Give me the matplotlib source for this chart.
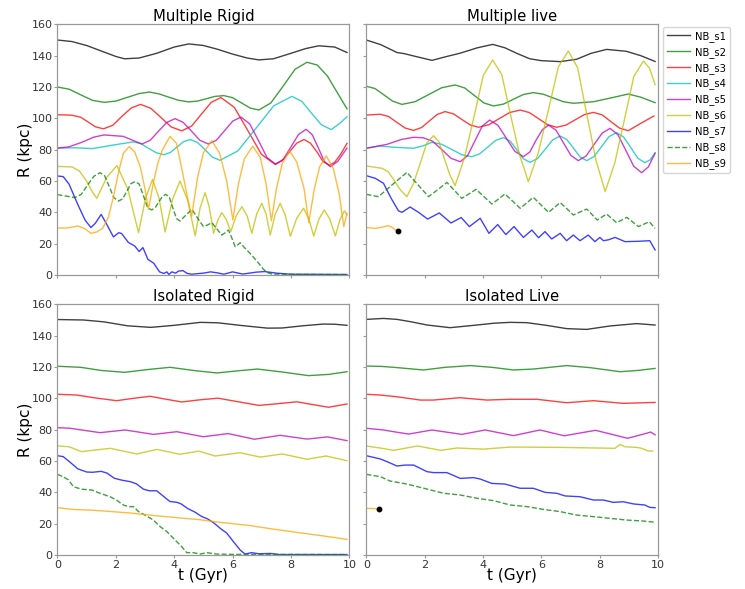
import matplotlib
matplotlib.use("Agg")
import matplotlib.pyplot as plt
from matplotlib.lines import Line2D

# ---------------- data (t in Gyr, R in kpc) ----------------
LABELS = ["NB_s1", "NB_s2", "NB_s3", "NB_s4", "NB_s5", "NB_s6", "NB_s7", "NB_s8", "NB_s9"]
TITLES = ["Multiple Rigid", "Multiple live", "Isolated Rigid", "Isolated Live"]
X_TICKS = [0, 2, 4, 6, 8, 10]
Y_TICKS = [0, 20, 40, 60, 80, 100, 120, 140, 160]

# ---- Multiple Rigid ----
MR_S1_T = [0, 0.5, 1, 1.5, 2, 2.3, 2.8, 3.4, 4, 4.5, 5, 5.5, 6, 6.5, 6.9, 7.4, 8, 8.5, 8.95, 9.5, 9.92]
MR_S1_R = [150, 149, 146.5, 143, 139.5, 138, 138.5, 141.5, 145.5, 147.5, 146.5, 144, 141, 138.5, 137.3, 138, 141.5, 144.5, 146.3, 145.5, 142]
MR_S2_T = [0, 0.4, 0.8, 1.2, 1.6, 2.0, 2.4, 2.8, 3.15, 3.5, 3.8, 4.15, 4.5, 4.8, 5.1, 5.4, 5.7, 6.0, 6.3, 6.6, 6.9, 7.31, 7.73, 8.14, 8.55, 8.9, 9.25, 9.6, 9.92]
MR_S2_R = [120, 118.6, 115, 111.5, 110.2, 111, 113.4, 115.8, 116.8, 115.5, 113.6, 111.5, 110.5, 111, 112.5, 114, 114.5, 113.2, 109.9, 106.6, 105.3, 109.8, 120.5, 131.3, 135.8, 134, 127, 116, 106]
MR_S3_T = [0, 0.5, 0.8, 1.05, 1.3, 1.58, 1.9, 2.2, 2.53, 2.85, 3.2, 3.55, 3.9, 4.26, 4.6, 4.93, 5.27, 5.6, 6.06, 6.53, 6.99, 7.45, 7.7, 7.95, 8.2, 8.45, 8.67, 8.9, 9.1, 9.32, 9.5, 9.7, 9.92]
MR_S3_R = [102.3, 102, 100.7, 97.7, 94.6, 93.3, 95.6, 101.1, 106.6, 108.9, 106.4, 100.5, 94.5, 92, 95.1, 102.6, 110.2, 113.3, 107, 92, 77, 70.7, 73, 78.6, 84.2, 86.5, 84.1, 78.3, 72.4, 70, 72, 77, 84]
MR_S4_T = [0, 0.6, 1.2, 1.9, 2.6, 2.86, 3.12, 3.39, 3.65, 3.87, 4.1, 4.32, 4.55, 4.8, 5.06, 5.31, 5.57, 6.18, 6.8, 7.41, 8.03, 8.37, 8.7, 9.04, 9.38, 9.65, 9.92]
MR_S4_R = [81, 81.2, 80.7, 82.9, 85, 83.8, 80.9, 78, 76.8, 78.2, 81.7, 85.1, 86.5, 84.6, 79.9, 75.2, 73.2, 79.2, 93.6, 108, 114, 110.9, 103.4, 95.9, 92.8, 96.5, 101]
MR_S5_T = [0, 0.4, 0.85, 1.25, 1.6, 2.25, 2.9, 3.18, 3.46, 3.74, 4.03, 4.31, 4.6, 4.88, 5.17, 5.45, 5.73, 6.01, 6.29, 6.59, 6.89, 7.18, 7.48, 7.74, 8.0, 8.26, 8.52, 8.73, 8.94, 9.14, 9.35, 9.6, 9.92]
MR_S5_R = [81, 81.8, 84.8, 88, 89.4, 88.5, 83.6, 86, 91.7, 97.3, 99.8, 97.4, 91.7, 86, 83.6, 86.1, 92.2, 98.3, 100.8, 96.4, 85.7, 75, 70.6, 73.9, 81.8, 89.7, 93, 89.5, 81, 72.6, 69.1, 72.5, 81]
MR_S6_T = [0, 0.5, 0.75, 1.0, 1.2, 1.35, 1.7, 2.04, 2.41, 2.78, 3.02, 3.26, 3.48, 3.69, 3.95, 4.2, 4.46, 4.72, 4.89, 5.06, 5.2, 5.35, 5.5, 5.63, 5.78, 5.94, 6.13, 6.32, 6.5, 6.66, 6.83, 7.0, 7.15, 7.29, 7.46, 7.63, 7.8, 7.98, 8.2, 8.43, 8.6, 8.78, 8.96, 9.14, 9.33, 9.52, 9.68, 9.83, 9.92]
MR_S6_R = [69.3, 69, 66.5, 60, 53, 49, 62.5, 69.8, 55, 27, 49, 61, 49.3, 27.5, 48.6, 60, 47.8, 25, 43, 52.6, 43.5, 26.6, 35.2, 39.8, 35.6, 27.7, 38, 43.6, 37.7, 26.6, 39.1, 45.8, 38.7, 25.5, 38.7, 45.8, 38.4, 24.7, 36.3, 42.6, 36.4, 24.9, 35.7, 41.5, 35.7, 24.9, 35.4, 41, 38.3]
MR_S7_T = [0, 0.2, 0.4, 0.7, 0.95, 1.15, 1.3, 1.5, 1.7, 1.92, 2.1, 2.2, 2.43, 2.65, 2.8, 2.93, 3.1, 3.3, 3.5, 3.65, 3.75, 3.82, 3.92, 4.05, 4.15, 4.3, 4.45, 4.6, 5.0, 5.25, 5.5, 5.7, 6.0, 6.35, 6.8, 7.1, 7.5, 8.0, 9.0, 9.92]
MR_S7_R = [63.2, 62.8, 58, 45, 35, 30.3, 33, 38.7, 32, 24.3, 27, 26.5, 20.8, 18.5, 15, 17.5, 10, 7.5, 2, 1, 2, 0.3, 2, 1.2, 2.5, 2.8, 1, 0.5, 1.2, 2, 1.3, 0.5, 2, 0.6, 1.8, 2.2, 1.2, 0.5, 0.4, 0.3]
MR_S8_T = [0, 0.6, 0.82, 1.03, 1.25, 1.46, 1.62, 1.78, 1.93, 2.09, 2.23, 2.38, 2.52, 2.66, 2.8, 2.95, 3.09, 3.23, 3.35, 3.47, 3.59, 3.71, 3.83, 3.95, 4.08, 4.2, 4.4, 4.61, 4.8, 5.0, 5.15, 5.29, 5.46, 5.63, 5.75, 5.86, 5.98, 6.09, 6.18, 6.26, 6.43, 6.6, 6.85, 7.06, 7.2, 7.35, 8.0, 9.92]
MR_S8_R = [51.3, 49.4, 51.5, 57.3, 63, 65.3, 63.3, 56.3, 49.5, 47.2, 48.5, 53.4, 58.3, 59.6, 58.1, 50.5, 43, 41.5, 43, 46.5, 50, 51.5, 49.9, 43, 36, 34.5, 38.2, 41.9, 36.4, 30.9, 32, 33.4, 29.5, 25.5, 27, 28.7, 23.4, 18.1, 19.3, 20.6, 17, 13.8, 8.5, 3.6, 1.5, 0.6, 0.4, 0.3]
MR_S9_T = [0, 0.35, 0.7, 0.95, 1.15, 1.35, 1.55, 1.75, 1.92, 2.1, 2.26, 2.46, 2.65, 2.84, 3.0, 3.12, 3.3, 3.45, 3.6, 3.86, 4.08, 4.26, 4.45, 4.6, 4.8, 5.0, 5.29, 5.55, 5.8, 6.01, 6.2, 6.4, 6.69, 6.95, 7.15, 7.33, 7.5, 7.7, 7.95, 8.2, 8.45, 8.61, 8.8, 8.98, 9.21, 9.45, 9.65, 9.81, 9.92]
MR_S9_R = [30, 30, 31.3, 29.5, 26.6, 27.5, 29.8, 37, 50, 66, 77.7, 82, 78.5, 69, 55, 42, 60, 72, 80, 88.5, 84, 68, 50, 37.5, 62, 78, 85.7, 78, 60, 35.1, 58, 74, 82.3, 75, 58, 34.5, 55, 71, 79.4, 72, 55, 33.4, 55, 69, 76, 68, 52, 30.9, 39.4]

# ---- Multiple live ----
ML_S1_T = [0, 0.5, 1.05, 1.3, 1.8, 2.25, 2.76, 3.2, 3.8, 4.33, 4.75, 5.15, 5.6, 6.0, 6.64, 7.2, 7.7, 8.23, 8.9, 9.4, 9.89]
ML_S1_R = [150, 147, 142, 141.3, 139, 137, 139.5, 141.5, 145, 147.2, 145, 141.5, 138, 136.8, 136.2, 137.7, 141.5, 144, 142.8, 140, 136.3]
ML_S2_T = [0, 0.3, 0.6, 0.9, 1.22, 1.67, 2.13, 2.58, 3.04, 3.37, 3.7, 4.03, 4.36, 4.7, 5.04, 5.38, 5.72, 6.06, 6.4, 6.75, 7.09, 7.78, 8.37, 8.97, 9.4, 9.89]
ML_S2_R = [120.5, 119, 115, 111, 108.9, 110.6, 115.1, 119.5, 121.3, 119.4, 114.6, 109.8, 107.9, 109.1, 112.2, 115.2, 116.4, 115.4, 113, 110.6, 109.6, 110.6, 113, 115.5, 113.5, 110]
ML_S3_T = [0, 0.48, 0.77, 1.05, 1.33, 1.62, 1.89, 2.16, 2.43, 2.7, 2.99, 3.27, 3.56, 3.84, 4.2, 4.55, 4.91, 5.27, 5.58, 5.9, 6.21, 6.52, 6.84, 7.15, 7.47, 7.78, 8.08, 8.37, 8.67, 8.97, 9.4, 9.85]
ML_S3_R = [102.1, 102.6, 101.1, 97.4, 93.8, 92.3, 94.1, 98.3, 102.5, 104.3, 102.8, 99.3, 95.8, 94.3, 95.9, 99.8, 103.7, 105.3, 103.7, 99.8, 95.9, 94.3, 95.7, 99, 102.4, 103.8, 102.2, 98, 93.8, 92.1, 96.8, 101.5]
ML_S4_T = [0, 0.45, 1.0, 1.62, 1.95, 2.25, 2.59, 2.93, 3.27, 3.61, 3.88, 4.16, 4.43, 4.7, 4.93, 5.16, 5.38, 5.61, 5.87, 6.13, 6.38, 6.64, 6.87, 7.1, 7.32, 7.55, 7.8, 8.06, 8.31, 8.57, 8.81, 9.06, 9.3, 9.54, 9.72, 9.89]
ML_S4_R = [80.9, 82.3, 81.5, 80.9, 82.5, 84.7, 83.4, 80.1, 76.8, 75.5, 77.3, 81.6, 85.9, 87.7, 85.4, 79.8, 74.2, 71.9, 74.4, 80.3, 86.2, 88.7, 86.4, 80.9, 75.3, 73, 75.6, 82, 88.3, 90.9, 88.1, 81.3, 74.5, 71.7, 73.5, 78]
ML_S5_T = [0, 0.71, 1.2, 1.62, 1.95, 2.27, 2.59, 2.9, 3.22, 3.47, 3.72, 3.97, 4.22, 4.51, 4.8, 5.09, 5.38, 5.6, 5.81, 6.03, 6.24, 6.5, 6.75, 7.01, 7.26, 7.53, 7.8, 8.08, 8.35, 8.62, 8.89, 9.16, 9.43, 9.66, 9.89]
ML_S5_R = [80.9, 83.4, 86.5, 87.9, 87.6, 85.4, 80, 74.5, 72.3, 76.2, 85.6, 95, 98.9, 95.5, 87.2, 78.9, 75.5, 78.5, 85.9, 92.7, 95.7, 92.4, 84.4, 76.3, 73, 76, 83.3, 90.6, 93.6, 89.5, 79.5, 69.4, 65.3, 69, 77.7]
ML_S6_T = [0, 0.54, 0.75, 0.97, 1.18, 1.39, 1.62, 1.85, 2.07, 2.3, 2.49, 2.67, 2.86, 3.04, 3.36, 3.69, 4.01, 4.33, 4.64, 4.94, 5.25, 5.55, 5.89, 6.24, 6.58, 6.92, 7.24, 7.55, 7.87, 8.18, 8.51, 8.84, 9.16, 9.49, 9.7, 9.89]
ML_S6_R = [69.6, 68.1, 65.9, 60, 54, 50, 58.6, 71.4, 84.2, 88.9, 85.1, 74.5, 64, 57, 74.6, 101.1, 127.6, 137.2, 127.9, 102.3, 76.7, 59.6, 78, 105.5, 133, 143, 132.2, 102.6, 73, 53.2, 71.5, 99.1, 126.6, 136.6, 132, 121.5]
ML_S7_T = [0, 0.31, 0.59, 0.85, 1.1, 1.22, 1.5, 1.79, 2.1, 2.5, 2.9, 3.25, 3.53, 3.9, 4.2, 4.5, 4.78, 5.06, 5.38, 5.67, 5.9, 6.12, 6.35, 6.64, 6.86, 7.09, 7.32, 7.6, 7.83, 8.0, 8.12, 8.3, 8.52, 8.86, 9.3, 9.71, 9.89]
ML_S7_R = [63.4, 61.7, 58.5, 49, 41, 40, 43.4, 40, 35.7, 39.6, 33.2, 36.7, 30.9, 36.2, 26.6, 32.2, 25.8, 30.9, 24, 28.7, 23.8, 27.7, 23, 26.6, 21.9, 25.5, 21.9, 25.5, 21.3, 24, 21.9, 22.5, 24, 21.3, 21.5, 21.9, 16]
ML_S8_T = [0, 0.42, 0.9, 1.39, 1.76, 2.13, 2.45, 2.76, 3.02, 3.27, 3.52, 3.76, 4.03, 4.3, 4.53, 4.75, 5.01, 5.27, 5.5, 5.72, 5.98, 6.24, 6.44, 6.64, 6.87, 7.09, 7.32, 7.55, 7.73, 7.91, 8.07, 8.23, 8.4, 8.57, 8.75, 8.92, 9.12, 9.32, 9.5, 9.69, 9.89]
ML_S8_R = [51.5, 50, 57.8, 65.5, 57.8, 50, 54.5, 59.1, 54, 48.9, 51.8, 54.7, 50, 45.3, 48.5, 51.7, 47.2, 42.6, 46.1, 49.6, 44.8, 40, 43.1, 46.2, 42.3, 38.3, 40.2, 42.1, 38.6, 35.1, 37, 38.9, 36.2, 33.4, 35.1, 36.8, 33.9, 30.9, 32.4, 34, 29.8]
ML_S9_T = [0, 0.3, 0.5, 0.75, 0.88, 1.0, 1.1]
ML_S9_R = [30.3, 29.8, 30.4, 31.5, 30.5, 28.7, 28.3]

# ---- Isolated Rigid ----
IR_S1_T = [0, 0.9, 1.6, 2.4, 3.2, 4.0, 4.9, 5.5, 6.3, 7.2, 7.7, 8.4, 9.1, 9.5, 9.92]
IR_S1_R = [150.3, 150, 148.8, 146.3, 145.3, 146.6, 148.5, 148.2, 146.5, 144.8, 144.9, 146.3, 147.4, 147.3, 146.6]
IR_S2_T = [0, 0.8, 1.5, 2.3, 3.1, 3.86, 4.7, 5.46, 6.2, 6.85, 7.7, 8.6, 9.3, 9.92]
IR_S2_R = [120.5, 119.8, 117.8, 116.6, 118.4, 119.8, 117.7, 116.2, 117.6, 118.7, 116.8, 114.5, 115.3, 117]
IR_S3_T = [0, 0.66, 1.4, 2.03, 2.6, 3.18, 3.7, 4.26, 4.85, 5.5, 6.2, 6.9, 7.5, 8.2, 8.75, 9.29, 9.92]
IR_S3_R = [102.6, 102.1, 100, 98.5, 100, 101.3, 99.5, 97.7, 99, 100.1, 97.8, 95.5, 96.5, 97.8, 96, 94.3, 96.4]
IR_S5_T = [0, 0.43, 1.46, 2.32, 3.29, 4.09, 5.0, 5.85, 6.75, 7.63, 8.55, 9.25, 9.92]
IR_S5_R = [81.3, 80.9, 78.1, 79.8, 77, 78.7, 75.5, 77.5, 73.9, 76.4, 74, 75.4, 73]
IR_S6_T = [0, 0.4, 0.83, 1.81, 2.72, 3.41, 4.2, 4.85, 5.4, 6.25, 6.95, 7.7, 8.55, 9.2, 9.92]
IR_S6_R = [69.6, 69.1, 66, 68.1, 64.5, 67.4, 64.3, 66.3, 63.2, 65.3, 62.5, 64.5, 61.1, 63.2, 60.2]
IR_S7_T = [0, 0.2, 0.45, 0.7, 1.0, 1.2, 1.5, 1.7, 1.95, 2.2, 2.5, 2.7, 2.95, 3.15, 3.4, 3.6, 3.85, 4.1, 4.25, 4.45, 4.7, 4.95, 5.15, 5.35, 5.58, 5.8, 6.03, 6.26, 6.43, 6.65, 6.9, 7.3, 7.6, 9.92]
IR_S7_R = [63.4, 62.8, 59, 55, 53, 52.8, 53.4, 52.3, 49, 47.8, 46.8, 45.5, 42, 41, 41, 38, 34.2, 33.6, 32.5, 29.8, 27.5, 24.5, 23, 20.6, 17, 14, 8.5, 3.2, 0.6, 1.5, 0.8, 1.0, 0.3, 0.3]
IR_S8_T = [0, 0.2, 0.38, 0.55, 0.83, 1.18, 1.46, 1.81, 2.03, 2.26, 2.43, 2.61, 2.78, 3.0, 3.29, 3.52, 3.75, 3.92, 4.09, 4.26, 4.43, 4.66, 4.89, 5.12, 5.46, 6.0, 9.92]
IR_S8_R = [51.5, 50, 47.9, 43.6, 42, 41.5, 39.4, 37.2, 35, 31.9, 30.9, 30.9, 27.7, 25.5, 22.3, 18.1, 14.9, 11.7, 8.5, 5.3, 1.5, 1.5, 0.6, 1.5, 0.6, 0.4, 0.3]
IR_S9_T = [0, 0.6, 1.2, 1.8, 2.5, 3.3, 4.0, 4.9, 5.5, 6.0, 6.6, 7.4, 8.3, 9.1, 9.92]
IR_S9_R = [30.2, 29, 28.6, 27.8, 26.8, 25.2, 24, 22.5, 21, 20, 18.8, 16.5, 14.2, 12.2, 10]

# ---- Isolated Live ----
IL_S1_T = [0, 0.59, 1.05, 1.55, 2.08, 2.87, 3.79, 4.4, 4.93, 5.5, 6.2, 6.86, 7.55, 8.35, 9.26, 9.89]
IL_S1_R = [150.4, 151, 150.4, 148.8, 146.8, 145.1, 146.8, 148, 148.5, 148.3, 146.5, 144.5, 144, 146.2, 147.7, 146.8]
IL_S2_T = [0, 0.5, 0.94, 1.96, 2.7, 3.56, 4.3, 5.04, 5.72, 6.86, 7.66, 8.69, 9.3, 9.89]
IL_S2_R = [120.6, 120.4, 119.8, 118.1, 119.8, 120.9, 119.8, 118.1, 118.7, 120.9, 119.6, 117, 117.8, 119.1]
IL_S3_T = [0, 0.48, 1.05, 1.85, 2.3, 3.2, 4.13, 4.93, 5.84, 6.86, 7.78, 8.8, 9.89]
IL_S3_R = [102.6, 102.1, 101, 98.9, 98.9, 100.4, 98.9, 99.4, 99.4, 97.2, 98.5, 96.8, 97.4]
IL_S5_T = [0, 0.59, 0.94, 1.45, 2.25, 3.27, 4.07, 5.04, 5.95, 6.78, 7.85, 8.95, 9.6, 9.74, 9.89]
IL_S5_R = [80.9, 79.8, 78.7, 77.2, 79.8, 77, 79.8, 76.2, 79.8, 76.1, 79.6, 74.5, 77.7, 78.5, 76.7]
IL_S6_T = [0, 0.54, 0.94, 1.75, 2.55, 3.1, 4.01, 4.93, 6.64, 8.52, 8.69, 8.86, 9.26, 9.43, 9.66, 9.81]
IL_S6_R = [69.6, 68.1, 66.8, 69.6, 66.8, 68.3, 67.6, 68.9, 68.7, 68.1, 70.6, 69.1, 68.7, 68.1, 66.4, 66.4]
IL_S7_T = [0, 0.48, 0.71, 1.05, 1.33, 1.62, 2.08, 2.3, 2.76, 3.22, 3.67, 3.9, 4.3, 4.75, 5.27, 5.72, 6.12, 6.52, 6.81, 7.32, 7.78, 8.12, 8.46, 8.8, 9.15, 9.54, 9.71, 9.89]
IL_S7_R = [63.4, 61.3, 59.6, 56.8, 57.4, 57.4, 53.2, 52.6, 52.6, 48.9, 49.4, 48.5, 45.7, 45.3, 42.6, 42.6, 40, 39.4, 37.7, 37.2, 35.1, 35.1, 33.6, 34, 32.6, 31.9, 30.4, 30.2]
IL_S8_T = [0, 0.48, 0.82, 1.39, 2.08, 2.65, 3.22, 3.79, 4.36, 4.93, 5.5, 6.07, 6.64, 7.2, 7.78, 8.35, 8.92, 9.49, 9.89]
IL_S8_R = [51.5, 50, 47.2, 45.3, 42.1, 39.4, 38.3, 36.2, 34.7, 31.9, 30.9, 29.1, 27.7, 25.5, 24.5, 23.4, 22.3, 21.7, 20.9]
IL_S9_T = [0, 0.2, 0.42]
IL_S9_R = [29.8, 29.7, 29.4]

# ---------------- styling ----------------
COLORS = ["k", "g", "r", "c", "m", "y", "b", "g", "orange"]
STYLES = ["-", "-", "-", "-", "-", "-", "-", "--", "-"]
ALPHA = 0.75
LW = 1.0

panels = [
    {0: (MR_S1_T, MR_S1_R), 1: (MR_S2_T, MR_S2_R), 2: (MR_S3_T, MR_S3_R), 3: (MR_S4_T, MR_S4_R),
     4: (MR_S5_T, MR_S5_R), 5: (MR_S6_T, MR_S6_R), 6: (MR_S7_T, MR_S7_R), 7: (MR_S8_T, MR_S8_R),
     8: (MR_S9_T, MR_S9_R)},
    {0: (ML_S1_T, ML_S1_R), 1: (ML_S2_T, ML_S2_R), 2: (ML_S3_T, ML_S3_R), 3: (ML_S4_T, ML_S4_R),
     4: (ML_S5_T, ML_S5_R), 5: (ML_S6_T, ML_S6_R), 6: (ML_S7_T, ML_S7_R), 7: (ML_S8_T, ML_S8_R),
     8: (ML_S9_T, ML_S9_R)},
    {0: (IR_S1_T, IR_S1_R), 1: (IR_S2_T, IR_S2_R), 2: (IR_S3_T, IR_S3_R),
     4: (IR_S5_T, IR_S5_R), 5: (IR_S6_T, IR_S6_R), 6: (IR_S7_T, IR_S7_R), 7: (IR_S8_T, IR_S8_R),
     8: (IR_S9_T, IR_S9_R)},
    {0: (IL_S1_T, IL_S1_R), 1: (IL_S2_T, IL_S2_R), 2: (IL_S3_T, IL_S3_R),
     4: (IL_S5_T, IL_S5_R), 5: (IL_S6_T, IL_S6_R), 6: (IL_S7_T, IL_S7_R), 7: (IL_S8_T, IL_S8_R),
     8: (IL_S9_T, IL_S9_R)},
]
DOT_PANELS = [1, 3]   # panels where NB_s9 ends with a black dot

plt.rcParams["font.family"] = ["DejaVu Sans"]
fig, axes = plt.subplots(2, 2, figsize=(7.45, 5.89), dpi=100, sharex=True, sharey=True)
fig.subplots_adjust(left=0.077, right=0.8836, top=0.9587, bottom=0.0577, wspace=0.058, hspace=0.117)
axes = axes.ravel()

for k, ax in enumerate(axes):
    for i, (t, r) in panels[k].items():
        ax.plot(t, r, color=COLORS[i], ls=STYLES[i], lw=LW, alpha=ALPHA)
    if k in DOT_PANELS:
        t9, r9 = panels[k][8]
        ax.plot(t9[-1], r9[-1], "o", color="k", ms=3.2)
    ax.set_title(TITLES[k], fontsize=10.7, pad=2.6)
    ax.set_xlim(0, 10)
    ax.set_ylim(0, 160)
    ax.set_xticks(X_TICKS)
    ax.set_yticks(Y_TICKS)
    ax.tick_params(direction="out", length=2.5, width=0.8, color="#999999",
                   labelsize=8, labelcolor="#333333", pad=1)
    for sp in ax.spines.values():
        sp.set_color("#999999")
        sp.set_linewidth(0.9)
    if k in (0, 2):
        ax.set_ylabel("R (kpc)", fontsize=11, labelpad=-1)
    if k in (2, 3):
        ax.set_xlabel("t (Gyr)", fontsize=11, labelpad=-1.5)

handles = [Line2D([0], [0], color=COLORS[i], ls=STYLES[i], lw=LW, alpha=ALPHA) for i in range(9)]
leg = axes[1].legend(handles, LABELS, loc="upper left", bbox_to_anchor=(1.017, 0.99),
                     borderaxespad=0, fontsize=7.2, frameon=True, handlelength=2.3,
                     handletextpad=0.5, labelspacing=0.5)
leg.get_frame().set_edgecolor("#cccccc")

fig.savefig("out.png", dpi=100)
